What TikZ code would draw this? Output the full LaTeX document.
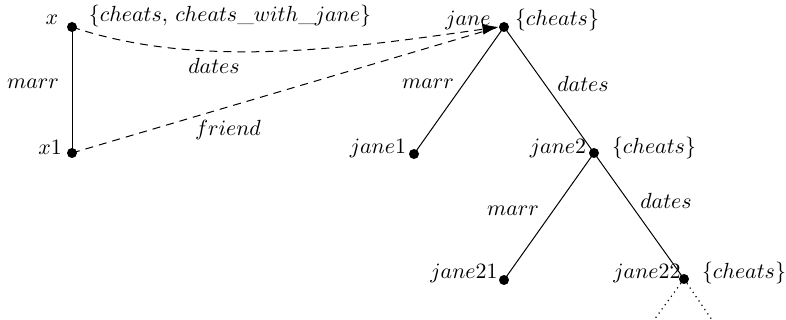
\documentclass[tikz,border=0pt]{standalone}
\usetikzlibrary{arrows.meta}
\begin{document}
\begin{tikzpicture}[x=0.5pt,y=-0.5pt,
  dot/.style={circle,fill=black,inner sep=0pt,minimum size=5pt},
  lbl/.style={inner sep=0pt,font=\fontsize{11.3}{13}\selectfont},
  edge/.style={line width=0.5pt},
  dashline/.style={line width=0.5pt,dash pattern=on 4pt off 3pt},
  dotline/.style={line width=0.6pt,dotted}]
\useasboundingbox (0,0) rectangle (786,320);
% nodes
\node[dot] (x) at (72,27) {};
\node[dot] (x1) at (72,153) {};
\node[dot] (jane) at (504,27) {};
\node[dot] (jane1) at (414,154) {};
\node[dot] (jane2) at (594,153) {};
\node[dot] (jane21) at (504,280) {};
\node[dot] (jane22) at (684,279) {};
\coordinate (e1) at (654,320);
\coordinate (e2) at (712,320);
% labels
\node[lbl] (lx) at (52,20) {$x$};
\node[lbl] (sx) at (230,16) {$\{cheats,\, cheats\_with\_jane\}$};
\node[lbl] (lx1) at (50,147) {$x1$};
\node[lbl] (lj) at (468,20) {$jane$};
\node[lbl] (sj) at (557,20) {$\{cheats\}$};
\node[lbl] (lj1) at (378,148) {$jane1$};
\node[lbl] (lj2) at (558,148) {$jane2$};
\node[lbl] (sj2) at (654,148) {$\{cheats\}$};
\node[lbl] (lj21) at (464,273) {$jane21$};
\node[lbl] (lj22) at (647,273) {$jane22$};
\node[lbl] (sj22) at (744,273) {$\{cheats\}$};
% edge labels
\node[lbl] (m1) at (33,84) {$marr$};
\node[lbl] (d1) at (214,66) {$dates$};
\node[lbl] (f1) at (228,130) {$friend$};
\node[lbl] (m2) at (428,84) {$marr$};
\node[lbl] (d2) at (583,84) {$dates$};
\node[lbl] (m3) at (513,211) {$marr$};
\node[lbl] (d3) at (666,201) {$dates$};
% edges
\draw[edge] (x.center) -- (x1.center);
\draw[dashline,-{Latex[length=8pt,width=5.5pt]}] (x.center) .. controls (200,70) and (350,48) .. (jane.west);
\draw[dashline] (x1.center) -- (jane.west);
\draw[edge] (jane.center) -- (jane1.center);
\draw[edge] (jane.center) -- (jane2.center);
\draw[edge] (jane2.center) -- (jane21.center);
\draw[edge] (jane2.center) -- (jane22.center);
\draw[dotline] (jane22.center) -- (e1);
\draw[dotline] (jane22.center) -- (e2);
\end{tikzpicture}
\end{document}
